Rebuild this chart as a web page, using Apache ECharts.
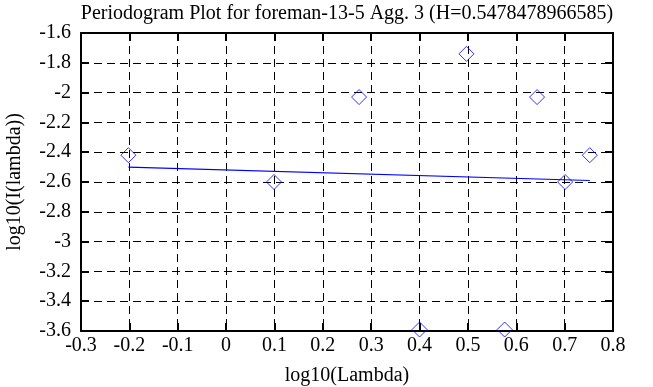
<!DOCTYPE html>
<html>
<head>
<meta charset="utf-8">
<script src="https://cdn.jsdelivr.net/npm/echarts@6/dist/echarts.min.js"></script>
<style>html,body{margin:0;padding:0;background:#fff}#c{width:653px;height:387px}</style>
</head>
<body>
<div id="c"></div>
<script>
const titleText = 'Periodogram Plot for foreman-13-5 Agg. 3 (H=0.5478478966585)';
const xName = 'log10(Lambda)';
const yName = 'log10(I(lambda))';
const pointX = [-0.202, 0.099, 0.275, 0.400, 0.497, 0.576, 0.643, 0.701, 0.752];
const pointY = [-2.42, -2.60, -2.03, -3.59, -1.74, -3.59, -2.03, -2.60, -2.42];
const fitX = [-0.202, 0.752];
const fitY = [-2.50, -2.59];
const xTicks = {min: -0.3, max: 0.8, interval: 0.1};
const yTicks = {min: -3.6, max: -1.6, interval: 0.2};

const font = 'Liberation Serif';
const fs = 20;
const fmt = v => String(+(+v).toFixed(1));
const grid = {left: 81, right: 40, top: 33, bottom: 56, containLabel: false, outerBoundsMode: 'none'};
const dash = [8, 5];

const chart = echarts.init(document.getElementById('c'), null, {renderer: 'canvas'});
chart.setOption({
  animation: false,
  backgroundColor: '#fff',
  title: {
    text: titleText, left: 342, textAlign: 'center', top: -1,
    textStyle: {fontFamily: font, fontSize: fs, fontWeight: 'normal', color: '#000'}
  },
  grid: grid,
  xAxis: [{
    type: 'value', min: xTicks.min, max: xTicks.max, interval: xTicks.interval,
    name: xName, nameLocation: 'middle', nameGap: 35,
    nameTextStyle: {fontFamily: font, fontSize: fs, color: '#000'},
    axisLine: {onZero: false, lineStyle: {color: '#000', width: 2}},
    axisTick: {inside: true, length: 8, lineStyle: {color: '#000', width: 2}},
    axisLabel: {formatter: fmt, fontFamily: font, fontSize: fs, color: '#000', margin: 5},
    splitLine: {show: true, lineStyle: {color: '#000', type: dash, width: 1}}
  }, {
    type: 'value', position: 'top', min: xTicks.min, max: xTicks.max, interval: xTicks.interval,
    axisLine: {show: true, onZero: false, lineStyle: {color: '#000', width: 2}},
    axisTick: {show: true, inside: true, length: 8, lineStyle: {color: '#000', width: 2}},
    axisLabel: {show: false}, splitLine: {show: false}
  }],
  yAxis: [{
    type: 'value', min: yTicks.min, max: yTicks.max, interval: yTicks.interval,
    name: yName, nameLocation: 'middle', nameGap: 56,
    nameTextStyle: {fontFamily: font, fontSize: fs, color: '#000'},
    axisLine: {show: true, onZero: false, lineStyle: {color: '#000', width: 2}},
    axisTick: {show: true, inside: true, length: 8, lineStyle: {color: '#000', width: 2}},
    axisLabel: {formatter: fmt, fontFamily: font, fontSize: fs, color: '#000', margin: 10},
    splitLine: {show: true, lineStyle: {color: '#000', type: dash, width: 1}}
  }, {
    type: 'value', position: 'right', min: yTicks.min, max: yTicks.max, interval: yTicks.interval,
    axisLine: {show: true, onZero: false, lineStyle: {color: '#000', width: 2}},
    axisTick: {show: true, inside: true, length: 8, lineStyle: {color: '#000', width: 2}},
    axisLabel: {show: false}, splitLine: {show: false}
  }],
  series: [{
    type: 'line',
    data: fitX.map((x, i) => [x, fitY[i]]),
    showSymbol: false, symbol: 'none',
    lineStyle: {color: '#0000ff', width: 1.2},
    z: 3
  }, {
    type: 'scatter',
    data: pointX.map((x, i) => [x, pointY[i]]),
    symbol: 'diamond', symbolSize: 15,
    itemStyle: {color: 'rgba(0,0,0,0)', borderColor: '#0000ff', borderWidth: 1},
    z: 4
  }]
});
</script>
</body>
</html>
